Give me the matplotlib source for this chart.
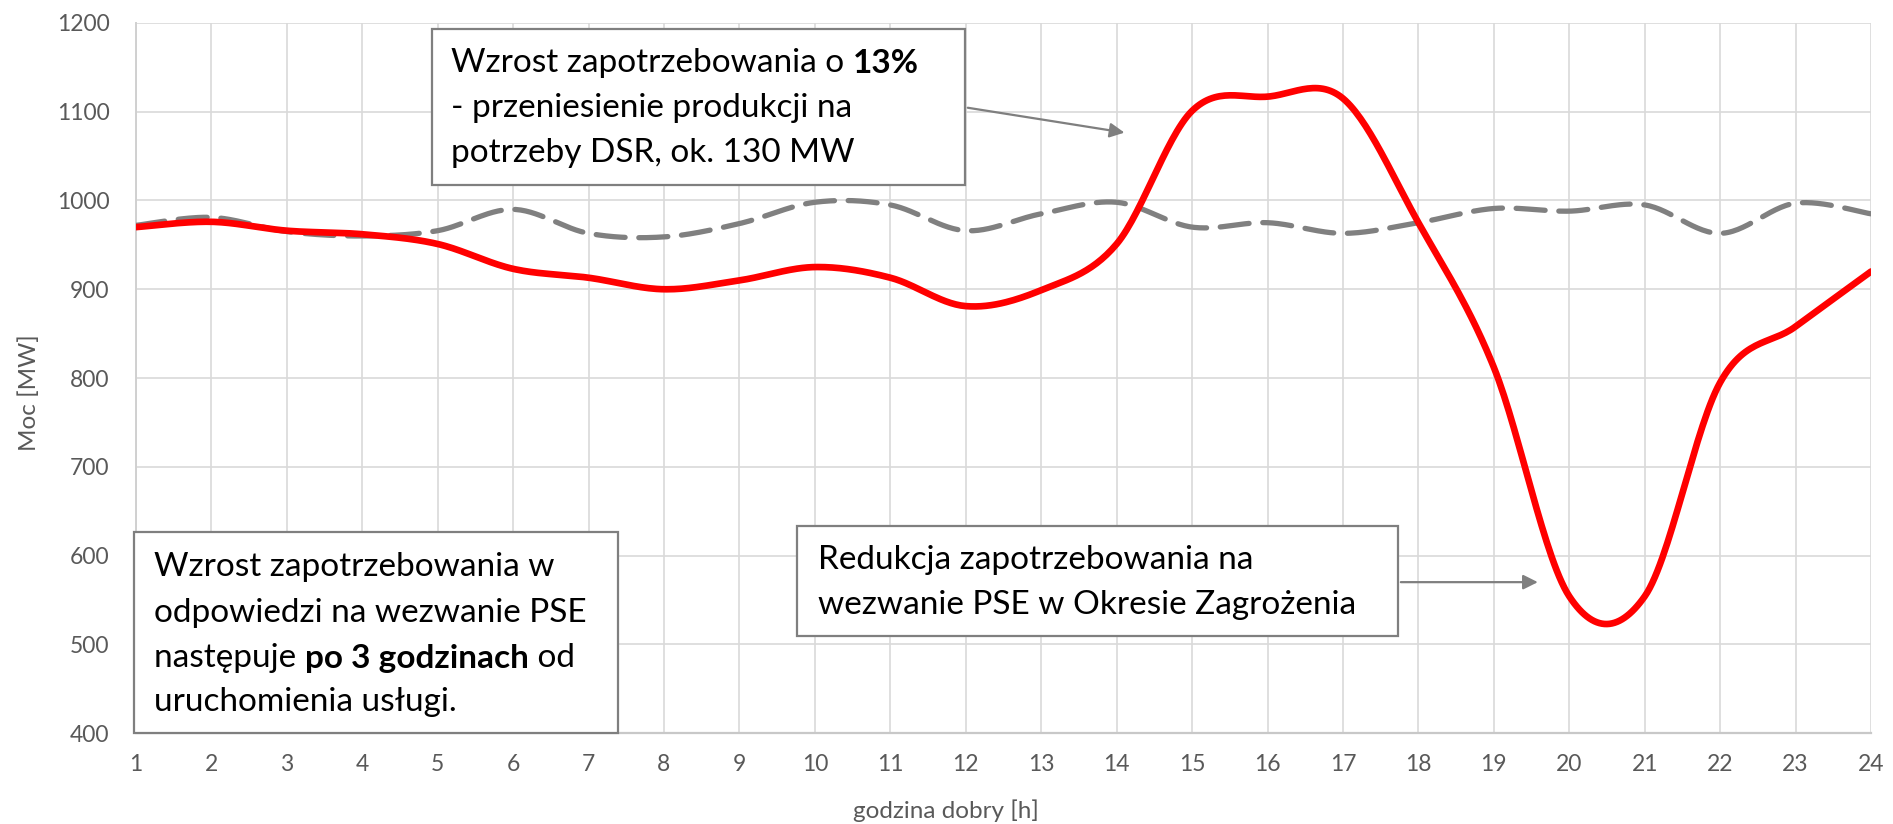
import numpy as np
import matplotlib
matplotlib.use("Agg")
import matplotlib.pyplot as plt
from matplotlib.patches import Rectangle

hours = list(range(1, 25))
dsr = [970, 976, 966, 962, 951, 923, 913, 900, 910, 925, 913, 881,
       899, 951, 1101, 1117, 1115, 975, 812, 554, 554, 795, 858, 920]
base = [972, 981, 965, 960, 966, 990, 963, 959, 974, 998, 995, 966,
        985, 998, 970, 975, 963, 975, 991, 988, 995, 963, 997, 985]
yticks = [400, 500, 600, 700, 800, 900, 1000, 1100, 1200]
xlabel = "godzina dobry [h]"
ylabel = "Moc [MW]"

FONT = ["Lato", "DejaVu Sans"]
plt.rcParams["font.family"] = FONT


def smooth(x, y, n=30):
    """Catmull-Rom smoothing (like Excel smoothed lines)."""
    x = np.asarray(x, float)
    y = np.asarray(y, float)
    xp = np.concatenate([[x[0]], x, [x[-1]]])
    yp = np.concatenate([[y[0]], y, [y[-1]]])
    xs, ys = [], []
    for i in range(1, len(xp) - 2):
        p0, p1, p2, p3 = yp[i - 1], yp[i], yp[i + 1], yp[i + 2]
        q0, q1, q2, q3 = xp[i - 1], xp[i], xp[i + 1], xp[i + 2]
        t = np.linspace(0, 1, n, endpoint=False)
        h00 = 2 * t**3 - 3 * t**2 + 1
        h10 = t**3 - 2 * t**2 + t
        h01 = -2 * t**3 + 3 * t**2
        h11 = t**3 - t**2
        m1 = (p2 - p0) / 2
        m2 = (p3 - p1) / 2
        k1 = (q2 - q0) / 2
        k2 = (q3 - q1) / 2
        ys.append(h00 * p1 + h10 * m1 + h01 * p2 + h11 * m2)
        xs.append(h00 * q1 + h10 * k1 + h01 * q2 + h11 * k2)
    xs.append([x[-1]])
    ys.append([y[-1]])
    return np.concatenate(xs), np.concatenate(ys)


fig = plt.figure(figsize=(18.93, 8.24), dpi=100)
ax = fig.add_axes([0.0718, 0.1104, 0.9166, 0.8617])

ax.set_xlim(1, 24)
ax.set_ylim(400, 1200)
ax.set_xticks(hours)
ax.set_yticks(yticks)
ax.grid(True, color="#d9d9d9", lw=1.2)
ax.set_axisbelow(True)
for s in ax.spines.values():
    s.set_visible(False)
ax.spines["left"].set_visible(True)
ax.spines["bottom"].set_visible(True)
ax.spines["left"].set_color("#d0d0d0")
ax.spines["bottom"].set_color("#c8c8c8")
ax.spines["left"].set_linewidth(1.4)
ax.spines["bottom"].set_linewidth(1.6)
ax.tick_params(length=0, labelsize=16.5, labelcolor="#595959")
ax.tick_params(axis="y", pad=19)
ax.tick_params(axis="x", pad=15)

xs, ys = smooth(hours, base)
ax.plot(xs, ys, color="#808080", lw=3.8, dashes=(5.5, 2.6),
        dash_capstyle="round", zorder=3)
xs, ys = smooth(hours, dsr)
ax.plot(xs, ys, color="#ff0000", lw=4.8, solid_capstyle="round", zorder=4)

ax.set_ylabel(ylabel, fontsize=17.5, color="#595959")
ax.yaxis.set_label_coords(-0.055, 0.48)
ax.set_xlabel(xlabel, fontsize=17.5, color="#595959")
ax.xaxis.set_label_coords(0.467, -0.094)

BOXC = "#7f7f7f"
TS = 24


def box(x0, y0, x1, y1):
    r = Rectangle((x0, y0), x1 - x0, y1 - y0, facecolor="white",
                  edgecolor=BOXC, lw=1.6, zorder=6, clip_on=False)
    ax.add_patch(r)


def rich(x, y, parts):
    prev = None
    for txt, bold in parts:
        w = "bold" if bold else "normal"
        if prev is None:
            prev = ax.text(x, y, txt, fontsize=TS, fontweight=w, color="black",
                           va="center", ha="left", zorder=7)
        else:
            prev = ax.annotate(txt, xy=(1, 0), xycoords=prev, va="bottom",
                               ha="left", fontsize=TS, fontweight=w,
                               color="black", zorder=7)


# box 1
box(4.92, 1017.5, 11.99, 1193)
rich(5.18, 1155, [("Wzrost zapotrzebowania o ", False), ("13%", True)])
rich(5.18, 1104.5, [("- przeniesienie produkcji na", False)])
rich(5.18, 1053.5, [("potrzeby DSR, ok. 130 MW", False)])
ax.annotate("", xy=(14.14, 1076), xytext=(11.99, 1105),
            arrowprops=dict(arrowstyle="-|>", color=BOXC, lw=1.6,
                            mutation_scale=22), zorder=6)

# box 2
box(0.98, 400, 7.39, 626.5)
rich(1.24, 587, [("Wzrost zapotrzebowania w", False)])
rich(1.24, 535, [("odpowiedzi na wezwanie PSE", False)])
rich(1.24, 484.5, [("następuje ", False), ("po 3 godzinach", True), (" od", False)])
rich(1.24, 435, [("uruchomienia usługi.", False)])

# box 3
box(9.76, 509, 17.73, 633)
rich(10.04, 595, [("Redukcja zapotrzebowania na", False)])
rich(10.04, 544, [("wezwanie PSE w Okresie Zagrożenia", False)])
ax.annotate("", xy=(19.62, 570), xytext=(17.73, 570),
            arrowprops=dict(arrowstyle="-|>", color=BOXC, lw=1.6,
                            mutation_scale=22), zorder=6)

fig.savefig("out.png", dpi=100)
